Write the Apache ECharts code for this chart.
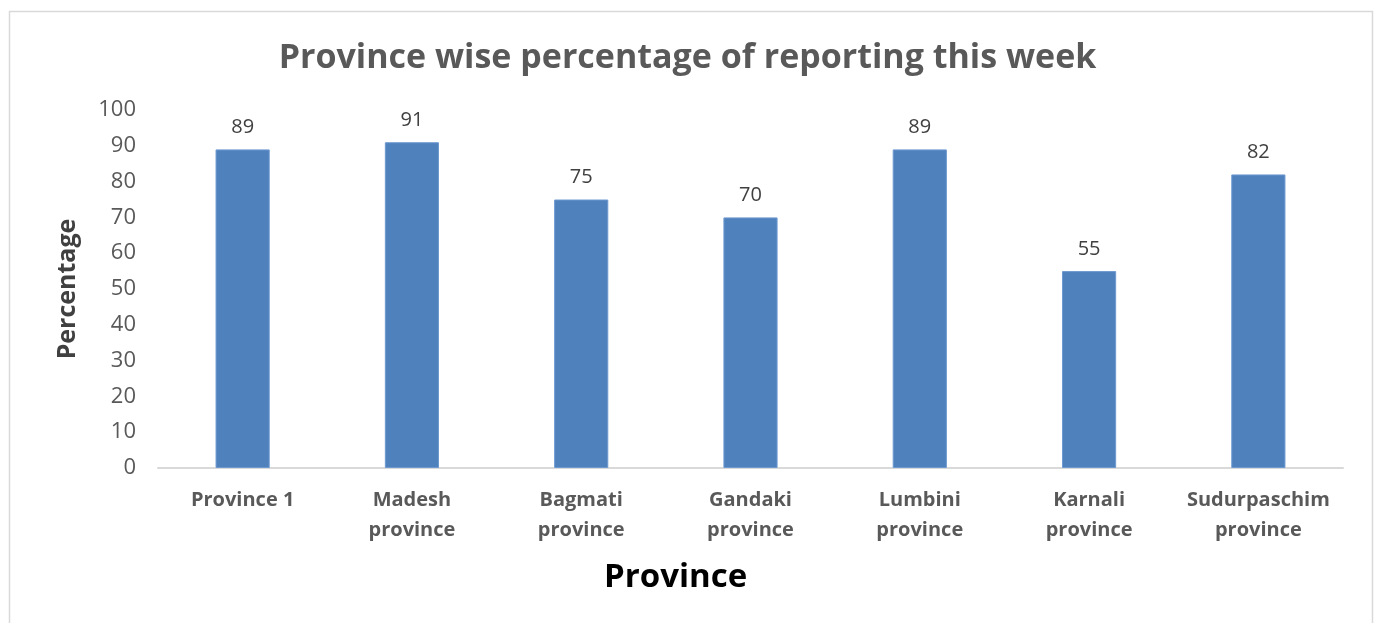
<!DOCTYPE html>
<html><head><meta charset="utf-8">
<script src="https://cdn.jsdelivr.net/npm/echarts@6/dist/echarts.min.js"></script>
<style>html,body{margin:0;padding:0;background:#fff}#c{width:1375px;height:623px}</style>
</head><body><div id="c"></div>
<script>
const categories = ["Province 1","Madesh\nprovince","Bagmati\nprovince","Gandaki\nprovince","Lumbini\nprovince","Karnali\nprovince","Sudurpaschim\nprovince"];
const values = [89, 91, 75, 70, 89, 55, 82];
const yTicks = [0,10,20,30,40,50,60,70,80,90,100];

const chart = echarts.init(document.getElementById('c'));
const F = '"Open Sans", "Liberation Sans", sans-serif';
chart.setOption({
  animation: false,
  graphic: [
    {type:'rect', shape:{x:9.5,y:11.5,width:1363,height:640}, style:{fill:'none', stroke:'#d9d9d9', lineWidth:1.5}},
    {type:'text', left:604, top:561, style:{text:'Province', font:'bold 33px "Open Sans", sans-serif', fill:'#000'}}
  ],
  title: {text:'Province wise percentage of reporting this week', left:'center', top:36,
    textStyle:{fontFamily:F, fontWeight:'bold', fontSize:34, color:'#595959'}},
  grid: {left:158, right:32, top:110, bottom:155},
  xAxis: {type:'category', data:categories,
    axisLine:{lineStyle:{color:'#d9d9d9', width:2}}, axisTick:{show:false},
    axisLabel:{fontFamily:F, fontWeight:'bold', fontSize:20, color:'#595959', lineHeight:30, margin:17, interval:0}},
  yAxis: {type:'value', min:0, max:100, interval:10,
    axisLine:{show:false}, axisTick:{show:false}, splitLine:{show:false},
    axisLabel:{fontFamily:F, fontSize:22, color:'#595959', margin:22,
      formatter: v => yTicks.includes(v) ? String(v) : ''},
    name:'Percentage', nameLocation:'middle', nameGap:78,
    nameTextStyle:{fontFamily:F, fontWeight:'bold', fontSize:25, color:'#404040'}},
  series: [{type:'bar', data:values, barWidth:'32%',
    itemStyle:{color:'#4F81BD', borderColor:'#6f9ad0', borderWidth:1},
    label:{show:true, position:'top', distance:12, fontFamily:F, fontSize:20, color:'#404040'}}]
});
</script></body></html>
